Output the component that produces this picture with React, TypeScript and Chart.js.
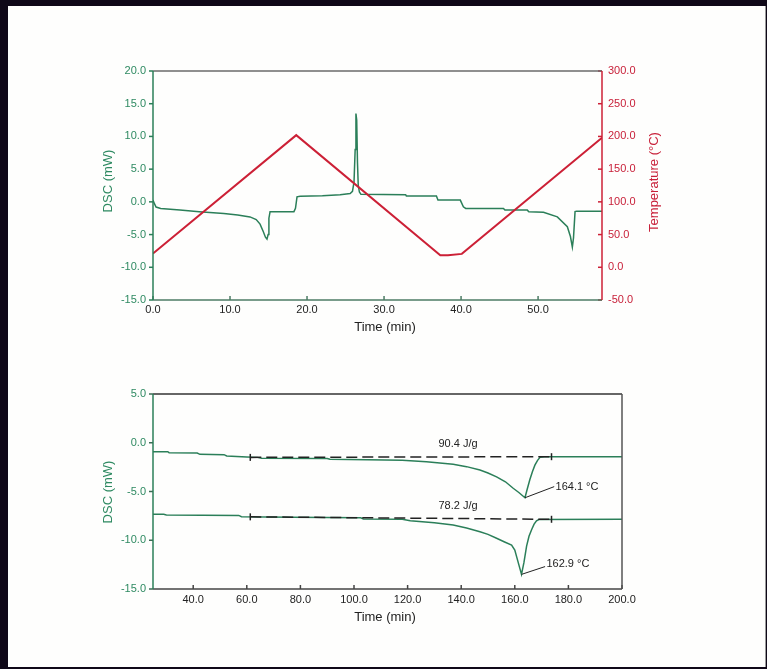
import React, { useEffect, useRef } from "react";
import { Chart, registerables } from "chart.js";

Chart.register(...registerables);

// ---------------- data: top chart ----------------
const TOP_X_TICKS = [0, 10, 20, 30, 40, 50];
const TOP_X_MIN = 0;
const TOP_X_MAX = 58.3;
const TOP_DSC_TICKS = [-15, -10, -5, 0, 5, 10, 15, 20];
const TOP_TEMP_TICKS = [-50, 0, 50, 100, 150, 200, 250, 300];

const DSC1_TIME = [0, 0.15, 0.4, 1.0, 3.5, 6.0, 9.2, 11.0, 12.6, 13.4, 13.9, 14.3, 14.6, 14.8, 14.95, 15.05, 15.2, 18.3, 18.5, 18.7, 19.1, 22.0, 24.3, 25.6, 25.9, 26.1, 26.25, 26.35, 26.45, 26.55, 26.65, 26.8, 27.0, 32.8, 32.9, 36.8, 37.0, 39.9, 40.3, 40.6, 45.5, 45.7, 48.6, 48.8, 50.7, 52.5, 53.8, 54.2, 54.45, 54.6, 54.8, 55.0, 58.3];
const DSC1_MW = [0.3, -0.2, -0.8, -1.0, -1.26, -1.5, -1.77, -2.0, -2.3, -2.7, -3.4, -4.5, -5.4, -5.7, -5.0, -2.5, -1.5, -1.5, -1.0, 0.77, 0.87, 0.95, 1.1, 1.28, 1.6, 3.0, 8.0, 13.5, 12.5, 6.0, 2.5, 1.5, 1.15, 1.1, 0.9, 0.9, 0.27, 0.27, -0.76, -1.0, -1.0, -1.26, -1.26, -1.5, -1.6, -2.3, -3.8, -5.3, -6.9, -5.5, -1.5, -1.42, -1.42];

const TEMP_TIME = [0, 18.6, 37.3, 38.3, 40.1, 58.3];
const TEMP_C = [21, 202, 18.5, 18.5, 20.5, 198];

// ---------------- data: bottom chart ----------------
const BOT_X_TICKS = [40, 60, 80, 100, 120, 140, 160, 180, 200];
const BOT_X_MIN = 25;
const BOT_X_MAX = 200;
const BOT_DSC_TICKS = [-15, -10, -5, 0, 5];

const DSC2_TIME = [25, 30.5, 31, 41.5, 42.5, 51.5, 52.5, 60, 64, 65.5, 90, 91, 105, 118, 127, 137, 142, 147, 150, 153.2, 156.5, 159.4, 161.5, 163.8, 164.6, 165.6, 166.6, 167.5, 168.5, 169.4, 171, 200];
const DSC2_MW = [-0.92, -0.92, -1.02, -1.05, -1.19, -1.22, -1.36, -1.45, -1.5, -1.6, -1.62, -1.7, -1.75, -1.8, -1.95, -2.2, -2.45, -2.8, -3.1, -3.5, -4.0, -4.67, -5.1, -5.64, -4.8, -3.8, -2.95, -2.3, -1.8, -1.5, -1.43, -1.43];

const DSC3_TIME = [25, 29, 30, 57, 58, 77, 102.5, 103.5, 118, 121, 130, 137, 142, 147, 150, 153.2, 156, 158.8, 160, 160.7, 161.6, 162.5, 163.4, 164.4, 165.3, 166.3, 167.2, 168.1, 169, 200];
const DSC3_MW = [-7.34, -7.34, -7.41, -7.45, -7.58, -7.65, -7.7, -7.82, -7.85, -8.0, -8.2, -8.44, -8.75, -9.12, -9.4, -9.8, -10.15, -10.5, -11.0, -11.7, -12.6, -13.5, -12.3, -10.6, -9.6, -8.9, -8.35, -8.0, -7.87, -7.85];

const BASE1_TIME = [61.3, 173.7];
const BASE1_MW = [-1.5, -1.43];
const BASE2_TIME = [61.3, 173.7];
const BASE2_MW = [-7.6, -7.85];

const ANNOT_TEXT = ["90.4 J/g", "164.1 \u00B0C", "78.2 J/g", "162.9 \u00B0C"];
const ANNOT_X = [138.8, 175.2, 138.8, 171.8];
const ANNOT_Y = [-0.13, -4.5, -6.49, -12.45];
const ANNOT_ALIGN = ["center", "left", "center", "left"];

const LEADER_FROM_X = [163.8, 162.5];
const LEADER_FROM_Y = [-5.64, -13.5];
const LEADER_TO_X = [174.7, 171.3];
const LEADER_TO_Y = [-4.5, -12.7];

// ---------------- styling ----------------
const FONT = "'Liberation Sans', Arial, Helvetica, sans-serif";
const GREEN = "#2b7f59";
const GREEN_TEXT = "#2f8a62";
const RED = "#cc2036";
const RED_TEXT = "#c8213a";
const DARK = "#222222";

const pts = (xs: number[], ys: number[]) => xs.map((x, i) => ({ x, y: ys[i] }));
const fmt = (v: any) => Number(v).toFixed(1);
const setTicks = (vals: number[]) => (s: any) => {
  s.ticks = vals.map((v) => ({ value: v }));
};

type TickCfg = { color: string; dir: number };
type FrameCfg = {
  colors: { top: string; right: string; bottom: string; left: string };
  xTick: TickCfg;
  yTick: TickCfg;
  y2Tick?: TickCfg;
  xTitle: { text: string; x: number; dy: number; color: string };
  yTitle: { text: string; x: number; y: number; color: string };
  y2Title?: { text: string; x: number; y: number; color: string };
};

function framePlugin(cfg: FrameCfg) {
  return {
    id: "frame",
    afterDatasetsDraw(chart: any) {
      const { ctx, chartArea: a, scales } = chart;
      ctx.save();
      ctx.lineWidth = 1.5;
      const seg = (x1: number, y1: number, x2: number, y2: number, c: string) => {
        ctx.strokeStyle = c;
        ctx.beginPath();
        ctx.moveTo(x1, y1);
        ctx.lineTo(x2, y2);
        ctx.stroke();
      };
      const L = 4;
      scales.x.ticks.forEach((t: any) => {
        const px = scales.x.getPixelForValue(t.value);
        seg(px, a.bottom, px, a.bottom + cfg.xTick.dir * L, cfg.xTick.color);
      });
      scales.y.ticks.forEach((t: any) => {
        const py = scales.y.getPixelForValue(t.value);
        seg(a.left, py, a.left - cfg.yTick.dir * L, py, cfg.yTick.color);
      });
      if (scales.y2 && cfg.y2Tick) {
        scales.y2.ticks.forEach((t: any) => {
          const py = scales.y2.getPixelForValue(t.value);
          seg(a.right, py, a.right + cfg.y2Tick!.dir * L, py, cfg.y2Tick!.color);
        });
      }
      seg(a.left, a.top, a.right, a.top, cfg.colors.top);
      seg(a.left, a.bottom, a.right, a.bottom, cfg.colors.bottom);
      seg(a.left, a.top, a.left, a.bottom, cfg.colors.left);
      seg(a.right, a.top, a.right, a.bottom, cfg.colors.right);
      ctx.restore();
    },
    afterDraw(chart: any) {
      const { ctx, chartArea: a } = chart;
      ctx.save();
      ctx.font = `13px ${FONT}`;
      ctx.textAlign = "center";
      ctx.textBaseline = "middle";
      ctx.fillStyle = cfg.xTitle.color;
      ctx.fillText(cfg.xTitle.text, cfg.xTitle.x, a.bottom + cfg.xTitle.dy);
      const vert = (t: { text: string; x: number; y: number; color: string }) => {
        ctx.save();
        ctx.translate(t.x, t.y);
        ctx.rotate(-Math.PI / 2);
        ctx.fillStyle = t.color;
        ctx.fillText(t.text, 0, 0);
        ctx.restore();
      };
      vert(cfg.yTitle);
      if (cfg.y2Title) vert(cfg.y2Title);
      ctx.restore();
    },
  };
}

const annotPlugin = {
  id: "annot",
  afterDatasetsDraw(chart: any) {
    const { ctx, scales } = chart;
    const X = scales.x;
    const Y = scales.y;
    ctx.save();
    ctx.strokeStyle = DARK;
    ctx.lineWidth = 1;
    LEADER_FROM_X.forEach((fx, i) => {
      ctx.beginPath();
      ctx.moveTo(X.getPixelForValue(fx), Y.getPixelForValue(LEADER_FROM_Y[i]));
      ctx.lineTo(X.getPixelForValue(LEADER_TO_X[i]), Y.getPixelForValue(LEADER_TO_Y[i]));
      ctx.stroke();
    });
    ctx.font = `11px ${FONT}`;
    ctx.fillStyle = DARK;
    ctx.textBaseline = "middle";
    ANNOT_TEXT.forEach((txt, i) => {
      ctx.textAlign = ANNOT_ALIGN[i] as CanvasTextAlign;
      ctx.fillText(txt, X.getPixelForValue(ANNOT_X[i]), Y.getPixelForValue(ANNOT_Y[i]));
    });
    ctx.restore();
  },
};

const tickFont = { family: FONT, size: 11 };

function TopChart() {
  const ref = useRef<HTMLCanvasElement>(null);
  useEffect(() => {
    const chart = new Chart(ref.current as HTMLCanvasElement, {
      type: "line",
      data: {
        datasets: [
          {
            data: pts(TEMP_TIME, TEMP_C),
            yAxisID: "y2",
            borderColor: RED,
            borderWidth: 2,
            pointRadius: 0,
            tension: 0,
          },
          {
            data: pts(DSC1_TIME, DSC1_MW),
            yAxisID: "y",
            borderColor: GREEN,
            borderWidth: 1.5,
            pointRadius: 0,
            tension: 0,
          },
        ],
      },
      options: {
        responsive: false,
        animation: false,
        events: [],
        layout: { padding: { top: 71, left: 0, right: 0, bottom: 0 } },
        plugins: { legend: { display: false }, tooltip: { enabled: false } },
        scales: {
          x: {
            type: "linear",
            min: TOP_X_MIN,
            max: TOP_X_MAX,
            afterBuildTicks: setTicks(TOP_X_TICKS),
            afterFit: (s: any) => {
              s.height = 45;
            },
            grid: { display: false, drawTicks: false },
            border: { display: false },
            ticks: { color: DARK, font: tickFont, padding: 3, maxRotation: 0, autoSkip: false, callback: fmt },
          },
          y: {
            position: "left",
            min: -15,
            max: 20,
            afterBuildTicks: setTicks(TOP_DSC_TICKS),
            afterFit: (s: any) => {
              s.width = 153;
            },
            grid: { display: false, drawTicks: false },
            border: { display: false },
            ticks: { color: GREEN_TEXT, font: tickFont, padding: 7, autoSkip: false, callback: fmt },
          },
          y2: {
            position: "right",
            min: -50,
            max: 300,
            afterBuildTicks: setTicks(TOP_TEMP_TICKS),
            afterFit: (s: any) => {
              s.width = 165;
            },
            grid: { display: false, drawTicks: false },
            border: { display: false },
            ticks: { color: RED_TEXT, font: tickFont, padding: 6, autoSkip: false, callback: fmt },
          },
        },
      } as any,
      plugins: [
        framePlugin({
          colors: { top: "#6a6a6a", right: RED, bottom: "#4c7b64", left: GREEN },
          xTick: { color: "#4c7b64", dir: -1 },
          yTick: { color: GREEN, dir: 1 },
          y2Tick: { color: RED, dir: -1 },
          xTitle: { text: "Time (min)", x: 385, dy: 27, color: DARK },
          yTitle: { text: "DSC (mW)", x: 108, y: 181, color: GREEN_TEXT },
          y2Title: { text: "Temperature (\u00B0C)", x: 654, y: 182, color: RED_TEXT },
        }),
      ],
    });
    return () => chart.destroy();
  }, []);
  return (
    <canvas
      ref={ref}
      width={767}
      height={345}
      style={{ position: "absolute", left: 0, top: 0, width: 767, height: 345 }}
    />
  );
}

function BottomChart() {
  const ref = useRef<HTMLCanvasElement>(null);
  useEffect(() => {
    const baseStyle = {
      borderColor: DARK,
      borderWidth: 1.5,
      borderDash: [11, 5],
      pointRadius: 3.5,
      pointStyle: "line",
      rotation: 90,
      pointBorderColor: DARK,
      pointBorderWidth: 1.5,
      tension: 0,
    };
    const chart = new Chart(ref.current as HTMLCanvasElement, {
      type: "line",
      data: {
        datasets: [
          { data: pts(BASE1_TIME, BASE1_MW), ...baseStyle },
          { data: pts(BASE2_TIME, BASE2_MW), ...baseStyle },
          { data: pts(DSC2_TIME, DSC2_MW), borderColor: GREEN, borderWidth: 1.5, pointRadius: 0, tension: 0 },
          { data: pts(DSC3_TIME, DSC3_MW), borderColor: GREEN, borderWidth: 1.5, pointRadius: 0, tension: 0 },
        ],
      },
      options: {
        responsive: false,
        animation: false,
        events: [],
        layout: { padding: { top: 49, left: 0, right: 145, bottom: 0 } },
        plugins: { legend: { display: false }, tooltip: { enabled: false } },
        scales: {
          x: {
            type: "linear",
            min: BOT_X_MIN,
            max: BOT_X_MAX,
            afterBuildTicks: setTicks(BOT_X_TICKS),
            afterFit: (s: any) => {
              s.height = 80;
            },
            grid: { display: false, drawTicks: false },
            border: { display: false },
            ticks: { color: DARK, font: tickFont, padding: 4, maxRotation: 0, autoSkip: false, callback: fmt },
          },
          y: {
            position: "left",
            min: -15,
            max: 5,
            afterBuildTicks: setTicks(BOT_DSC_TICKS),
            afterFit: (s: any) => {
              s.width = 153;
            },
            grid: { display: false, drawTicks: false },
            border: { display: false },
            ticks: { color: GREEN_TEXT, font: tickFont, padding: 7, autoSkip: false, callback: fmt },
          },
        },
      } as any,
      plugins: [
        annotPlugin,
        framePlugin({
          colors: { top: "#333333", right: "#555555", bottom: "#444444", left: GREEN },
          xTick: { color: "#444444", dir: -1 },
          yTick: { color: "#3d6b55", dir: 1 },
          xTitle: { text: "Time (min)", x: 385, dy: 28, color: DARK },
          yTitle: { text: "DSC (mW)", x: 108, y: 492 - 345, color: GREEN_TEXT },
        }),
      ],
    });
    return () => chart.destroy();
  }, []);
  return (
    <canvas
      ref={ref}
      width={767}
      height={324}
      style={{ position: "absolute", left: 0, top: 345, width: 767, height: 324 }}
    />
  );
}

export default function App() {
  return (
    <div
      style={{
        position: "fixed",
        left: 0,
        top: 0,
        width: 767,
        height: 669,
        background: "#0f0818",
        overflow: "hidden",
      }}
    >
      <div
        style={{
          position: "absolute",
          left: 8,
          top: 6,
          width: 757,
          height: 661,
          background: "#fefefd",
          borderRight: "1px solid #9a9a9a",
        }}
      />
      <TopChart />
      <BottomChart />
    </div>
  );
}
